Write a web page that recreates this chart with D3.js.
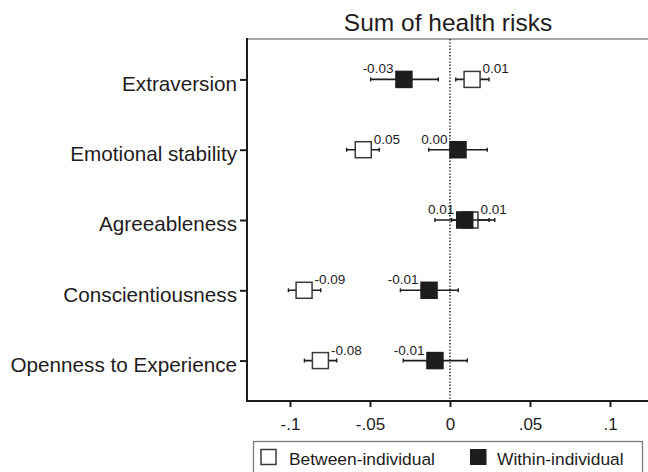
<!DOCTYPE html>
<html>
<head>
<meta charset="utf-8">
<script src="https://cdn.jsdelivr.net/npm/d3@7"></script>
<style>
  body { margin: 0; background: #fff; }
  svg { display: block; font-family: "Liberation Sans", Arial, sans-serif; }
</style>
</head>
<body>
<svg id="chart"></svg>
<script>
'use strict';

var categories = ['Extraversion', 'Emotional stability', 'Agreeableness', 'Conscientiousness', 'Openness to Experience'];

// between-individual estimates and 95% CI
var betweenEst = [0.0138, -0.0542, 0.0125, -0.0912, -0.0810];
var betweenLo = [0.0036, -0.0646, 0.0010, -0.1010, -0.0910];
var betweenHi = [0.0244, -0.0442, 0.0244, -0.0808, -0.0708];
var betweenLabels = ['0.01', '0.05', '0.01', '-0.09', '-0.08'];

// within-individual estimates and 95% CI
var withinEst = [-0.0288, 0.0050, 0.0092, -0.0131, -0.0094];
var withinLo = [-0.0496, -0.0133, -0.0094, -0.0310, -0.0292];
var withinHi = [-0.0073, 0.0233, 0.0280, 0.0052, 0.0108];
var withinLabels = ['-0.03', '0.00', '0.01', '-0.01', '-0.01'];

var xTicks = [-0.1, -0.05, 0, 0.05, 0.1];
var xTickLabels = ['-.1', '-.05', '0', '.05', '.1'];

var title = 'Sum of health risks';
var legendNames = ['Between-individual', 'Within-individual'];

var width = 648,
  height = 472,
  plotLeft = 247,
  plotRight = 649,
  plotTop = 39,
  plotBottom = 401,
  ink = '#1e1c1d';

var svg = d3.select('#chart').attr('width', width).attr('height', height);

var x = d3.scaleLinear().domain([-0.1, 0.1]).range([290, 610]);
var y = d3.scalePoint().domain(categories).range([plotTop, plotBottom]).padding(0.575);

function rows(est, lo, hi, labels) {
  return categories.map(function (c, i) {
    return {cat: c, est: est[i], lo: lo[i], hi: hi[i], label: labels[i]};
  });
}

// title
svg.append('text')
  .attr('x', (plotLeft + plotRight) / 2)
  .attr('y', 31)
  .attr('text-anchor', 'middle')
  .style('font-size', '24.5px')
  .attr('fill', ink)
  .text(title);

// frame top
svg.append('line')
  .attr('x1', plotLeft).attr('x2', plotRight)
  .attr('y1', plotTop).attr('y2', plotTop)
  .attr('stroke', '#8a8a8a').attr('stroke-width', 1.5);

// zero reference line
svg.append('line')
  .attr('x1', x(0)).attr('x2', x(0))
  .attr('y1', plotTop).attr('y2', plotBottom)
  .attr('stroke', '#000').attr('stroke-width', 1.3)
  .attr('stroke-dasharray', '1.4,1.8');

// x axis
var xAxis = svg.append('g')
  .attr('transform', 'translate(0,' + plotBottom + ')')
  .call(d3.axisBottom(x).tickValues(xTicks).tickSize(6).tickPadding(11)
    .tickFormat(function (d, i) { return xTickLabels[i]; }));
xAxis.select('.domain').remove();
xAxis.selectAll('.tick line').attr('stroke', ink).attr('stroke-width', 2);
xAxis.selectAll('.tick text').attr('fill', ink).style('font-size', '17px').attr('font-family', null);

// y axis
var yAxis = svg.append('g')
  .attr('transform', 'translate(' + plotLeft + ',0)')
  .call(d3.axisLeft(y).tickSize(7).tickPadding(3));
yAxis.select('.domain').remove();
yAxis.selectAll('.tick line').attr('stroke', ink).attr('stroke-width', 2);
yAxis.selectAll('.tick text').attr('fill', ink).style('font-size', '20.7px')
  .attr('font-family', null).attr('dy', '0.52em');

svg.append('line')
  .attr('x1', plotLeft).attr('x2', plotLeft)
  .attr('y1', plotTop - 1).attr('y2', plotBottom + 1)
  .attr('stroke', ink).attr('stroke-width', 2);
svg.append('line')
  .attr('x1', plotLeft - 1).attr('x2', plotRight)
  .attr('y1', plotBottom).attr('y2', plotBottom)
  .attr('stroke', ink).attr('stroke-width', 2);

function drawSeries(data, filled, labelSide) {
  var g = svg.append('g');
  var capH = 2;

  g.selectAll('.ci').data(data).enter().append('line')
    .attr('x1', function (d) { return x(d.lo); })
    .attr('x2', function (d) { return x(d.hi); })
    .attr('y1', function (d) { return y(d.cat); })
    .attr('y2', function (d) { return y(d.cat); })
    .attr('stroke', ink).attr('stroke-width', 1.6);

  ['lo', 'hi'].forEach(function (k) {
    g.selectAll('.cap-' + k).data(data).enter().append('line')
      .attr('x1', function (d) { return x(d[k]); })
      .attr('x2', function (d) { return x(d[k]); })
      .attr('y1', function (d) { return y(d.cat) - capH; })
      .attr('y2', function (d) { return y(d.cat) + capH; })
      .attr('stroke', ink).attr('stroke-width', 1.4);
  });

  var s = filled ? 17.5 : 16;
  g.selectAll('.mk').data(data).enter().append('rect')
    .attr('x', function (d) { return x(d.est) - s / 2; })
    .attr('y', function (d) { return y(d.cat) - s / 2; })
    .attr('width', s).attr('height', s)
    .attr('fill', filled ? ink : '#fff')
    .attr('stroke', filled ? 'none' : '#3a3a3a')
    .attr('stroke-width', 1.5);

  g.selectAll('.lab').data(data).enter().append('text')
    .attr('x', function (d) { return x(d.est) + labelSide * 10.5; })
    .attr('y', function (d) { return y(d.cat) - 6; })
    .attr('text-anchor', labelSide < 0 ? 'end' : 'start')
    .style('font-size', '13.5px')
    .attr('fill', ink)
    .text(function (d) { return d.label; });
}

drawSeries(rows(betweenEst, betweenLo, betweenHi, betweenLabels), false, 1);
drawSeries(rows(withinEst, withinLo, withinHi, withinLabels), true, -1);

// legend
var leg = svg.append('g');
leg.append('rect')
  .attr('x', 253.5).attr('y', 441.5)
  .attr('width', 389).attr('height', 60)
  .attr('fill', '#fff').attr('stroke', '#7a7a7a').attr('stroke-width', 1.3);
leg.append('rect')
  .attr('x', 261).attr('y', 449.5).attr('width', 15).attr('height', 15)
  .attr('fill', '#fff').attr('stroke', '#3a3a3a').attr('stroke-width', 1.5);
leg.append('text')
  .attr('x', 289).attr('y', 465).style('font-size', '17.4px').attr('fill', ink)
  .text(legendNames[0]);
leg.append('rect')
  .attr('x', 470).attr('y', 449).attr('width', 16.5).attr('height', 16)
  .attr('fill', ink);
leg.append('text')
  .attr('x', 497).attr('y', 465).style('font-size', '17.4px').attr('fill', ink)
  .text(legendNames[1]);
</script>
</body>
</html>
